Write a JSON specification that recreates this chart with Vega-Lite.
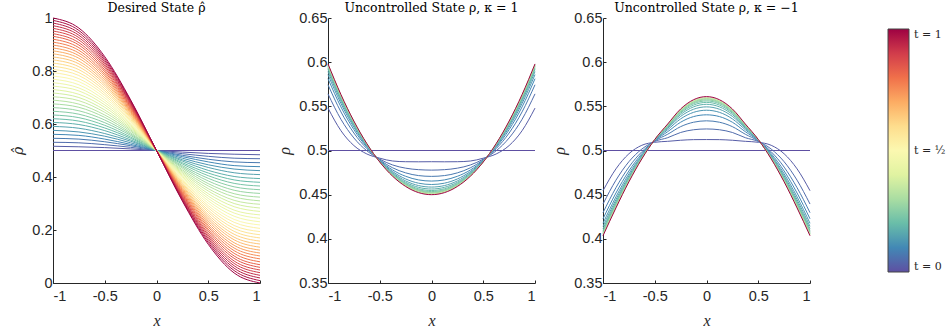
{
"$schema":"https://vega.github.io/schema/vega-lite/v6.json",
"padding":{"left":11,"top":1,"right":0,"bottom":0},
"bounds":"flush",
"spacing":68,
"config":{
"view":{"stroke":null},
"axis":{"grid":false,"domainColor":"#262626","domainWidth":1,"tickColor":"#262626","tickSize":-3,"tickWidth":1,"labelColor":"#262626","labelFont":"Liberation Sans","labelFontSize":14.5,"titleFont":"Liberation Serif","titleFontSize":16,"titleFontWeight":"normal","titleFontStyle":"italic","titleColor":"#262626","labelExpr":"toString(datum.value)"},
"axisX":{"labelPadding":9,"titlePadding":10},
"axisY":{"labelPadding":4,"titlePadding":6},
"title":{"font":"DejaVu Serif","fontSize":12.5,"fontWeight":"normal","color":"#000","offset":-4}
},
"datasets":{
"a":[
{"t":0,"x":-1,"y":0.5},{"t":0,"x":1,"y":0.5},
{"t":0.025,"x":-1,"y":0.516},{"t":0.025,"x":-0.75,"y":0.514},{"t":0.025,"x":-0.5,"y":0.511},{"t":0.025,"x":-0.25,"y":0.506},{"t":0.025,"x":0,"y":0.5},{"t":0.025,"x":0.25,"y":0.494},{"t":0.025,"x":0.5,"y":0.489},{"t":0.025,"x":0.75,"y":0.486},{"t":0.025,"x":1,"y":0.484},
{"t":0.05,"x":-1,"y":0.531},{"t":0.05,"x":-0.75,"y":0.529},{"t":0.05,"x":-0.5,"y":0.522},{"t":0.05,"x":-0.25,"y":0.512},{"t":0.05,"x":0,"y":0.5},{"t":0.05,"x":0.25,"y":0.488},{"t":0.05,"x":0.5,"y":0.478},{"t":0.05,"x":0.75,"y":0.471},{"t":0.05,"x":1,"y":0.469},
{"t":0.075,"x":-1,"y":0.546},{"t":0.075,"x":-0.75,"y":0.543},{"t":0.075,"x":-0.5,"y":0.533},{"t":0.075,"x":-0.25,"y":0.518},{"t":0.075,"x":0,"y":0.5},{"t":0.075,"x":0.25,"y":0.482},{"t":0.075,"x":0.5,"y":0.467},{"t":0.075,"x":0.75,"y":0.457},{"t":0.075,"x":1,"y":0.454},
{"t":0.1,"x":-1,"y":0.561},{"t":0.1,"x":-0.75,"y":0.557},{"t":0.1,"x":-0.5,"y":0.543},{"t":0.1,"x":-0.25,"y":0.523},{"t":0.1,"x":0,"y":0.5},{"t":0.1,"x":0.25,"y":0.477},{"t":0.1,"x":0.5,"y":0.457},{"t":0.1,"x":0.75,"y":0.443},{"t":0.1,"x":1,"y":0.439},
{"t":0.125,"x":-1,"y":0.576},{"t":0.125,"x":-0.75,"y":0.57},{"t":0.125,"x":-0.5,"y":0.554},{"t":0.125,"x":-0.25,"y":0.529},{"t":0.125,"x":0,"y":0.5},{"t":0.125,"x":0.25,"y":0.471},{"t":0.125,"x":0.5,"y":0.446},{"t":0.125,"x":0.75,"y":0.43},{"t":0.125,"x":1,"y":0.424},
{"t":0.15,"x":-1,"y":0.591},{"t":0.15,"x":-0.75,"y":0.584},{"t":0.15,"x":-0.5,"y":0.564},{"t":0.15,"x":-0.25,"y":0.535},{"t":0.15,"x":0,"y":0.5},{"t":0.15,"x":0.25,"y":0.465},{"t":0.15,"x":0.5,"y":0.436},{"t":0.15,"x":0.75,"y":0.416},{"t":0.15,"x":1,"y":0.409},
{"t":0.175,"x":-1,"y":0.606},{"t":0.175,"x":-0.75,"y":0.598},{"t":0.175,"x":-0.5,"y":0.575},{"t":0.175,"x":-0.25,"y":0.54},{"t":0.175,"x":0,"y":0.5},{"t":0.175,"x":0.25,"y":0.46},{"t":0.175,"x":0.5,"y":0.425},{"t":0.175,"x":0.75,"y":0.402},{"t":0.175,"x":1,"y":0.394},
{"t":0.2,"x":-1,"y":0.62},{"t":0.2,"x":-0.75,"y":0.611},{"t":0.2,"x":-0.5,"y":0.585},{"t":0.2,"x":-0.25,"y":0.546},{"t":0.2,"x":0,"y":0.5},{"t":0.2,"x":0.25,"y":0.454},{"t":0.2,"x":0.5,"y":0.415},{"t":0.2,"x":0.75,"y":0.389},{"t":0.2,"x":1,"y":0.38},
{"t":0.225,"x":-1,"y":0.634},{"t":0.225,"x":-0.75,"y":0.624},{"t":0.225,"x":-0.5,"y":0.595},{"t":0.225,"x":-0.25,"y":0.551},{"t":0.225,"x":0,"y":0.5},{"t":0.225,"x":0.25,"y":0.449},{"t":0.225,"x":0.5,"y":0.405},{"t":0.225,"x":0.75,"y":0.376},{"t":0.225,"x":1,"y":0.366},
{"t":0.25,"x":-1,"y":0.648},{"t":0.25,"x":-0.75,"y":0.637},{"t":0.25,"x":-0.5,"y":0.605},{"t":0.25,"x":-0.25,"y":0.557},{"t":0.25,"x":0,"y":0.5},{"t":0.25,"x":0.25,"y":0.443},{"t":0.25,"x":0.5,"y":0.395},{"t":0.25,"x":0.75,"y":0.363},{"t":0.25,"x":1,"y":0.352},
{"t":0.275,"x":-1,"y":0.662},{"t":0.275,"x":-0.75,"y":0.65},{"t":0.275,"x":-0.5,"y":0.615},{"t":0.275,"x":-0.25,"y":0.562},{"t":0.275,"x":0,"y":0.5},{"t":0.275,"x":0.25,"y":0.438},{"t":0.275,"x":0.5,"y":0.385},{"t":0.275,"x":0.75,"y":0.35},{"t":0.275,"x":1,"y":0.338},
{"t":0.3,"x":-1,"y":0.676},{"t":0.3,"x":-0.75,"y":0.663},{"t":0.3,"x":-0.5,"y":0.625},{"t":0.3,"x":-0.25,"y":0.567},{"t":0.3,"x":0,"y":0.5},{"t":0.3,"x":0.25,"y":0.433},{"t":0.3,"x":0.5,"y":0.375},{"t":0.3,"x":0.75,"y":0.337},{"t":0.3,"x":1,"y":0.324},
{"t":0.325,"x":-1,"y":0.69},{"t":0.325,"x":-0.75,"y":0.675},{"t":0.325,"x":-0.5,"y":0.634},{"t":0.325,"x":-0.25,"y":0.573},{"t":0.325,"x":0,"y":0.5},{"t":0.325,"x":0.25,"y":0.427},{"t":0.325,"x":0.5,"y":0.366},{"t":0.325,"x":0.75,"y":0.325},{"t":0.325,"x":1,"y":0.31},
{"t":0.35,"x":-1,"y":0.703},{"t":0.35,"x":-0.75,"y":0.688},{"t":0.35,"x":-0.5,"y":0.644},{"t":0.35,"x":-0.25,"y":0.578},{"t":0.35,"x":0,"y":0.5},{"t":0.35,"x":0.25,"y":0.422},{"t":0.35,"x":0.5,"y":0.356},{"t":0.35,"x":0.75,"y":0.312},{"t":0.35,"x":1,"y":0.297},
{"t":0.375,"x":-1,"y":0.717},{"t":0.375,"x":-0.75,"y":0.7},{"t":0.375,"x":-0.5,"y":0.653},{"t":0.375,"x":-0.25,"y":0.583},{"t":0.375,"x":0,"y":0.5},{"t":0.375,"x":0.25,"y":0.417},{"t":0.375,"x":0.5,"y":0.347},{"t":0.375,"x":0.75,"y":0.3},{"t":0.375,"x":1,"y":0.283},
{"t":0.4,"x":-1,"y":0.73},{"t":0.4,"x":-0.75,"y":0.712},{"t":0.4,"x":-0.5,"y":0.663},{"t":0.4,"x":-0.25,"y":0.588},{"t":0.4,"x":0,"y":0.5},{"t":0.4,"x":0.25,"y":0.412},{"t":0.4,"x":0.5,"y":0.337},{"t":0.4,"x":0.75,"y":0.288},{"t":0.4,"x":1,"y":0.27},
{"t":0.425,"x":-1,"y":0.743},{"t":0.425,"x":-0.75,"y":0.725},{"t":0.425,"x":-0.5,"y":0.672},{"t":0.425,"x":-0.25,"y":0.593},{"t":0.425,"x":0,"y":0.5},{"t":0.425,"x":0.25,"y":0.407},{"t":0.425,"x":0.5,"y":0.328},{"t":0.425,"x":0.75,"y":0.275},{"t":0.425,"x":1,"y":0.257},
{"t":0.45,"x":-1,"y":0.756},{"t":0.45,"x":-0.75,"y":0.736},{"t":0.45,"x":-0.5,"y":0.681},{"t":0.45,"x":-0.25,"y":0.598},{"t":0.45,"x":0,"y":0.5},{"t":0.45,"x":0.25,"y":0.402},{"t":0.45,"x":0.5,"y":0.319},{"t":0.45,"x":0.75,"y":0.264},{"t":0.45,"x":1,"y":0.244},
{"t":0.475,"x":-1,"y":0.769},{"t":0.475,"x":-0.75,"y":0.748},{"t":0.475,"x":-0.5,"y":0.69},{"t":0.475,"x":-0.25,"y":0.603},{"t":0.475,"x":0,"y":0.5},{"t":0.475,"x":0.25,"y":0.397},{"t":0.475,"x":0.5,"y":0.31},{"t":0.475,"x":0.75,"y":0.252},{"t":0.475,"x":1,"y":0.231},
{"t":0.5,"x":-1,"y":0.781},{"t":0.5,"x":-0.75,"y":0.76},{"t":0.5,"x":-0.5,"y":0.699},{"t":0.5,"x":-0.25,"y":0.608},{"t":0.5,"x":0,"y":0.5},{"t":0.5,"x":0.25,"y":0.392},{"t":0.5,"x":0.5,"y":0.301},{"t":0.5,"x":0.75,"y":0.24},{"t":0.5,"x":1,"y":0.219},
{"t":0.525,"x":-1,"y":0.794},{"t":0.525,"x":-0.75,"y":0.771},{"t":0.525,"x":-0.5,"y":0.708},{"t":0.525,"x":-0.25,"y":0.612},{"t":0.525,"x":0,"y":0.5},{"t":0.525,"x":0.25,"y":0.388},{"t":0.525,"x":0.5,"y":0.292},{"t":0.525,"x":0.75,"y":0.229},{"t":0.525,"x":1,"y":0.206},
{"t":0.55,"x":-1,"y":0.806},{"t":0.55,"x":-0.75,"y":0.783},{"t":0.55,"x":-0.5,"y":0.716},{"t":0.55,"x":-0.25,"y":0.617},{"t":0.55,"x":0,"y":0.5},{"t":0.55,"x":0.25,"y":0.383},{"t":0.55,"x":0.5,"y":0.284},{"t":0.55,"x":0.75,"y":0.217},{"t":0.55,"x":1,"y":0.194},
{"t":0.575,"x":-1,"y":0.818},{"t":0.575,"x":-0.75,"y":0.794},{"t":0.575,"x":-0.5,"y":0.725},{"t":0.575,"x":-0.25,"y":0.622},{"t":0.575,"x":0,"y":0.5},{"t":0.575,"x":0.25,"y":0.378},{"t":0.575,"x":0.5,"y":0.275},{"t":0.575,"x":0.75,"y":0.206},{"t":0.575,"x":1,"y":0.182},
{"t":0.6,"x":-1,"y":0.83},{"t":0.6,"x":-0.75,"y":0.805},{"t":0.6,"x":-0.5,"y":0.733},{"t":0.6,"x":-0.25,"y":0.626},{"t":0.6,"x":0,"y":0.5},{"t":0.6,"x":0.25,"y":0.374},{"t":0.6,"x":0.5,"y":0.267},{"t":0.6,"x":0.75,"y":0.195},{"t":0.6,"x":1,"y":0.17},
{"t":0.625,"x":-1,"y":0.842},{"t":0.625,"x":-0.75,"y":0.816},{"t":0.625,"x":-0.5,"y":0.742},{"t":0.625,"x":-0.25,"y":0.631},{"t":0.625,"x":0,"y":0.5},{"t":0.625,"x":0.25,"y":0.369},{"t":0.625,"x":0.5,"y":0.258},{"t":0.625,"x":0.75,"y":0.184},{"t":0.625,"x":1,"y":0.158},
{"t":0.65,"x":-1,"y":0.853},{"t":0.65,"x":-0.75,"y":0.827},{"t":0.65,"x":-0.5,"y":0.75},{"t":0.65,"x":-0.25,"y":0.635},{"t":0.65,"x":0,"y":0.5},{"t":0.65,"x":0.25,"y":0.365},{"t":0.65,"x":0.5,"y":0.25},{"t":0.65,"x":0.75,"y":0.173},{"t":0.65,"x":1,"y":0.147},
{"t":0.675,"x":-1,"y":0.865},{"t":0.675,"x":-0.75,"y":0.837},{"t":0.675,"x":-0.5,"y":0.758},{"t":0.675,"x":-0.25,"y":0.64},{"t":0.675,"x":0,"y":0.5},{"t":0.675,"x":0.25,"y":0.36},{"t":0.675,"x":0.5,"y":0.242},{"t":0.675,"x":0.75,"y":0.163},{"t":0.675,"x":1,"y":0.135},
{"t":0.7,"x":-1,"y":0.876},{"t":0.7,"x":-0.75,"y":0.848},{"t":0.7,"x":-0.5,"y":0.766},{"t":0.7,"x":-0.25,"y":0.644},{"t":0.7,"x":0,"y":0.5},{"t":0.7,"x":0.25,"y":0.356},{"t":0.7,"x":0.5,"y":0.234},{"t":0.7,"x":0.75,"y":0.152},{"t":0.7,"x":1,"y":0.124},
{"t":0.725,"x":-1,"y":0.887},{"t":0.725,"x":-0.75,"y":0.858},{"t":0.725,"x":-0.5,"y":0.774},{"t":0.725,"x":-0.25,"y":0.648},{"t":0.725,"x":0,"y":0.5},{"t":0.725,"x":0.25,"y":0.352},{"t":0.725,"x":0.5,"y":0.226},{"t":0.725,"x":0.75,"y":0.142},{"t":0.725,"x":1,"y":0.113},
{"t":0.75,"x":-1,"y":0.898},{"t":0.75,"x":-0.75,"y":0.868},{"t":0.75,"x":-0.5,"y":0.782},{"t":0.75,"x":-0.25,"y":0.652},{"t":0.75,"x":0,"y":0.5},{"t":0.75,"x":0.25,"y":0.348},{"t":0.75,"x":0.5,"y":0.218},{"t":0.75,"x":0.75,"y":0.132},{"t":0.75,"x":1,"y":0.102},
{"t":0.775,"x":-1,"y":0.909},{"t":0.775,"x":-0.75,"y":0.878},{"t":0.775,"x":-0.5,"y":0.789},{"t":0.775,"x":-0.25,"y":0.657},{"t":0.775,"x":0,"y":0.5},{"t":0.775,"x":0.25,"y":0.343},{"t":0.775,"x":0.5,"y":0.211},{"t":0.775,"x":0.75,"y":0.122},{"t":0.775,"x":1,"y":0.091},
{"t":0.8,"x":-1,"y":0.92},{"t":0.8,"x":-0.75,"y":0.888},{"t":0.8,"x":-0.5,"y":0.797},{"t":0.8,"x":-0.25,"y":0.661},{"t":0.8,"x":0,"y":0.5},{"t":0.8,"x":0.25,"y":0.339},{"t":0.8,"x":0.5,"y":0.203},{"t":0.8,"x":0.75,"y":0.112},{"t":0.8,"x":1,"y":0.08},
{"t":0.825,"x":-1,"y":0.931},{"t":0.825,"x":-0.75,"y":0.898},{"t":0.825,"x":-0.5,"y":0.804},{"t":0.825,"x":-0.25,"y":0.665},{"t":0.825,"x":0,"y":0.5},{"t":0.825,"x":0.25,"y":0.335},{"t":0.825,"x":0.5,"y":0.196},{"t":0.825,"x":0.75,"y":0.102},{"t":0.825,"x":1,"y":0.069},
{"t":0.85,"x":-1,"y":0.941},{"t":0.85,"x":-0.75,"y":0.907},{"t":0.85,"x":-0.5,"y":0.812},{"t":0.85,"x":-0.25,"y":0.669},{"t":0.85,"x":0,"y":0.5},{"t":0.85,"x":0.25,"y":0.331},{"t":0.85,"x":0.5,"y":0.188},{"t":0.85,"x":0.75,"y":0.093},{"t":0.85,"x":1,"y":0.059},
{"t":0.875,"x":-1,"y":0.951},{"t":0.875,"x":-0.75,"y":0.917},{"t":0.875,"x":-0.5,"y":0.819},{"t":0.875,"x":-0.25,"y":0.673},{"t":0.875,"x":0,"y":0.5},{"t":0.875,"x":0.25,"y":0.327},{"t":0.875,"x":0.5,"y":0.181},{"t":0.875,"x":0.75,"y":0.083},{"t":0.875,"x":1,"y":0.049},
{"t":0.9,"x":-1,"y":0.961},{"t":0.9,"x":-0.75,"y":0.926},{"t":0.9,"x":-0.5,"y":0.826},{"t":0.9,"x":-0.25,"y":0.677},{"t":0.9,"x":0,"y":0.5},{"t":0.9,"x":0.25,"y":0.323},{"t":0.9,"x":0.5,"y":0.174},{"t":0.9,"x":0.75,"y":0.074},{"t":0.9,"x":1,"y":0.039},
{"t":0.925,"x":-1,"y":0.971},{"t":0.925,"x":-0.75,"y":0.935},{"t":0.925,"x":-0.5,"y":0.833},{"t":0.925,"x":-0.25,"y":0.68},{"t":0.925,"x":0,"y":0.5},{"t":0.925,"x":0.25,"y":0.32},{"t":0.925,"x":0.5,"y":0.167},{"t":0.925,"x":0.75,"y":0.065},{"t":0.925,"x":1,"y":0.029},
{"t":0.95,"x":-1,"y":0.981},{"t":0.95,"x":-0.75,"y":0.944},{"t":0.95,"x":-0.5,"y":0.84},{"t":0.95,"x":-0.25,"y":0.684},{"t":0.95,"x":0,"y":0.5},{"t":0.95,"x":0.25,"y":0.316},{"t":0.95,"x":0.5,"y":0.16},{"t":0.95,"x":0.75,"y":0.056},{"t":0.95,"x":1,"y":0.019},
{"t":0.975,"x":-1,"y":0.991},{"t":0.975,"x":-0.75,"y":0.953},{"t":0.975,"x":-0.5,"y":0.847},{"t":0.975,"x":-0.25,"y":0.688},{"t":0.975,"x":0,"y":0.5},{"t":0.975,"x":0.25,"y":0.312},{"t":0.975,"x":0.5,"y":0.153},{"t":0.975,"x":0.75,"y":0.047},{"t":0.975,"x":1,"y":0.009},
{"t":1,"x":-1,"y":1},{"t":1,"x":-0.75,"y":0.962},{"t":1,"x":-0.5,"y":0.854},{"t":1,"x":-0.25,"y":0.691},{"t":1,"x":0,"y":0.5},{"t":1,"x":0.25,"y":0.309},{"t":1,"x":0.5,"y":0.146},{"t":1,"x":0.75,"y":0.038},{"t":1,"x":1,"y":0}
],
"b":[
{"t":0,"x":-1,"y":0.5},{"t":0,"x":1,"y":0.5},
{"t":0.025,"x":-1,"y":0.548},{"t":0.025,"x":-0.875,"y":0.5224},{"t":0.025,"x":-0.75,"y":0.5056},{"t":0.025,"x":-0.625,"y":0.4961},{"t":0.025,"x":-0.5,"y":0.4913},{"t":0.025,"x":-0.375,"y":0.4881},{"t":0.025,"x":-0.25,"y":0.4873},{"t":0.025,"x":-0.125,"y":0.4872},{"t":0.025,"x":0,"y":0.4873},{"t":0.025,"x":0.125,"y":0.4872},{"t":0.025,"x":0.25,"y":0.4873},{"t":0.025,"x":0.375,"y":0.4881},{"t":0.025,"x":0.5,"y":0.4913},{"t":0.025,"x":0.625,"y":0.4961},{"t":0.025,"x":0.75,"y":0.5056},{"t":0.025,"x":0.875,"y":0.5224},{"t":0.025,"x":1,"y":0.548},
{"t":0.05,"x":-1,"y":0.5641},{"t":0.05,"x":-0.875,"y":0.5353},{"t":0.05,"x":-0.75,"y":0.5142},{"t":0.05,"x":-0.625,"y":0.4997},{"t":0.05,"x":-0.5,"y":0.4902},{"t":0.05,"x":-0.375,"y":0.4836},{"t":0.05,"x":-0.25,"y":0.48},{"t":0.05,"x":-0.125,"y":0.4783},{"t":0.05,"x":0,"y":0.4778},{"t":0.05,"x":0.125,"y":0.4783},{"t":0.05,"x":0.25,"y":0.48},{"t":0.05,"x":0.375,"y":0.4836},{"t":0.05,"x":0.5,"y":0.4902},{"t":0.05,"x":0.625,"y":0.4997},{"t":0.05,"x":0.75,"y":0.5142},{"t":0.05,"x":0.875,"y":0.5353},{"t":0.05,"x":1,"y":0.5641},
{"t":0.075,"x":-1,"y":0.5744},{"t":0.075,"x":-0.875,"y":0.5437},{"t":0.075,"x":-0.75,"y":0.5198},{"t":0.075,"x":-0.625,"y":0.5021},{"t":0.075,"x":-0.5,"y":0.4894},{"t":0.075,"x":-0.375,"y":0.4804},{"t":0.075,"x":-0.25,"y":0.4747},{"t":0.075,"x":-0.125,"y":0.4716},{"t":0.075,"x":0,"y":0.4707},{"t":0.075,"x":0.125,"y":0.4716},{"t":0.075,"x":0.25,"y":0.4747},{"t":0.075,"x":0.375,"y":0.4804},{"t":0.075,"x":0.5,"y":0.4894},{"t":0.075,"x":0.625,"y":0.5021},{"t":0.075,"x":0.75,"y":0.5198},{"t":0.075,"x":0.875,"y":0.5437},{"t":0.075,"x":1,"y":0.5744},
{"t":0.1,"x":-1,"y":0.5813},{"t":0.1,"x":-0.875,"y":0.5493},{"t":0.1,"x":-0.75,"y":0.5236},{"t":0.1,"x":-0.625,"y":0.5037},{"t":0.1,"x":-0.5,"y":0.4888},{"t":0.1,"x":-0.375,"y":0.4779},{"t":0.1,"x":-0.25,"y":0.4708},{"t":0.1,"x":-0.125,"y":0.4667},{"t":0.1,"x":0,"y":0.4654},{"t":0.1,"x":0.125,"y":0.4667},{"t":0.1,"x":0.25,"y":0.4708},{"t":0.1,"x":0.375,"y":0.4779},{"t":0.1,"x":0.5,"y":0.4888},{"t":0.1,"x":0.625,"y":0.5037},{"t":0.1,"x":0.75,"y":0.5236},{"t":0.1,"x":0.875,"y":0.5493},{"t":0.1,"x":1,"y":0.5813},
{"t":0.125,"x":-1,"y":0.5859},{"t":0.125,"x":-0.875,"y":0.5532},{"t":0.125,"x":-0.75,"y":0.5263},{"t":0.125,"x":-0.625,"y":0.5048},{"t":0.125,"x":-0.5,"y":0.4883},{"t":0.125,"x":-0.375,"y":0.4761},{"t":0.125,"x":-0.25,"y":0.4678},{"t":0.125,"x":-0.125,"y":0.463},{"t":0.125,"x":0,"y":0.4615},{"t":0.125,"x":0.125,"y":0.463},{"t":0.125,"x":0.25,"y":0.4678},{"t":0.125,"x":0.375,"y":0.4761},{"t":0.125,"x":0.5,"y":0.4883},{"t":0.125,"x":0.625,"y":0.5048},{"t":0.125,"x":0.75,"y":0.5263},{"t":0.125,"x":0.875,"y":0.5532},{"t":0.125,"x":1,"y":0.5859},
{"t":0.15,"x":-1,"y":0.5893},{"t":0.15,"x":-0.875,"y":0.556},{"t":0.15,"x":-0.75,"y":0.5282},{"t":0.15,"x":-0.625,"y":0.5057},{"t":0.15,"x":-0.5,"y":0.488},{"t":0.15,"x":-0.375,"y":0.4748},{"t":0.15,"x":-0.25,"y":0.4656},{"t":0.15,"x":-0.125,"y":0.4603},{"t":0.15,"x":0,"y":0.4586},{"t":0.15,"x":0.125,"y":0.4603},{"t":0.15,"x":0.25,"y":0.4656},{"t":0.15,"x":0.375,"y":0.4748},{"t":0.15,"x":0.5,"y":0.488},{"t":0.15,"x":0.625,"y":0.5057},{"t":0.15,"x":0.75,"y":0.5282},{"t":0.15,"x":0.875,"y":0.556},{"t":0.15,"x":1,"y":0.5893},
{"t":0.175,"x":-1,"y":0.5918},{"t":0.175,"x":-0.875,"y":0.558},{"t":0.175,"x":-0.75,"y":0.5296},{"t":0.175,"x":-0.625,"y":0.5063},{"t":0.175,"x":-0.5,"y":0.4877},{"t":0.175,"x":-0.375,"y":0.4738},{"t":0.175,"x":-0.25,"y":0.464},{"t":0.175,"x":-0.125,"y":0.4583},{"t":0.175,"x":0,"y":0.4564},{"t":0.175,"x":0.125,"y":0.4583},{"t":0.175,"x":0.25,"y":0.464},{"t":0.175,"x":0.375,"y":0.4738},{"t":0.175,"x":0.5,"y":0.4877},{"t":0.175,"x":0.625,"y":0.5063},{"t":0.175,"x":0.75,"y":0.5296},{"t":0.175,"x":0.875,"y":0.558},{"t":0.175,"x":1,"y":0.5918},
{"t":0.2,"x":-1,"y":0.5934},{"t":0.2,"x":-0.875,"y":0.5594},{"t":0.2,"x":-0.75,"y":0.5305},{"t":0.2,"x":-0.625,"y":0.5067},{"t":0.2,"x":-0.5,"y":0.4876},{"t":0.2,"x":-0.375,"y":0.473},{"t":0.2,"x":-0.25,"y":0.4628},{"t":0.2,"x":-0.125,"y":0.4567},{"t":0.2,"x":0,"y":0.4547},{"t":0.2,"x":0.125,"y":0.4567},{"t":0.2,"x":0.25,"y":0.4628},{"t":0.2,"x":0.375,"y":0.473},{"t":0.2,"x":0.5,"y":0.4876},{"t":0.2,"x":0.625,"y":0.5067},{"t":0.2,"x":0.75,"y":0.5305},{"t":0.2,"x":0.875,"y":0.5594},{"t":0.2,"x":1,"y":0.5934},
{"t":0.225,"x":-1,"y":0.5946},{"t":0.225,"x":-0.875,"y":0.5604},{"t":0.225,"x":-0.75,"y":0.5312},{"t":0.225,"x":-0.625,"y":0.507},{"t":0.225,"x":-0.5,"y":0.4874},{"t":0.225,"x":-0.375,"y":0.4724},{"t":0.225,"x":-0.25,"y":0.4619},{"t":0.225,"x":-0.125,"y":0.4556},{"t":0.225,"x":0,"y":0.4535},{"t":0.225,"x":0.125,"y":0.4556},{"t":0.225,"x":0.25,"y":0.4619},{"t":0.225,"x":0.375,"y":0.4724},{"t":0.225,"x":0.5,"y":0.4874},{"t":0.225,"x":0.625,"y":0.507},{"t":0.225,"x":0.75,"y":0.5312},{"t":0.225,"x":0.875,"y":0.5604},{"t":0.225,"x":1,"y":0.5946},
{"t":0.25,"x":-1,"y":0.5954},{"t":0.25,"x":-0.875,"y":0.5611},{"t":0.25,"x":-0.75,"y":0.5317},{"t":0.25,"x":-0.625,"y":0.5072},{"t":0.25,"x":-0.5,"y":0.4873},{"t":0.25,"x":-0.375,"y":0.472},{"t":0.25,"x":-0.25,"y":0.4612},{"t":0.25,"x":-0.125,"y":0.4548},{"t":0.25,"x":0,"y":0.4526},{"t":0.25,"x":0.125,"y":0.4548},{"t":0.25,"x":0.25,"y":0.4612},{"t":0.25,"x":0.375,"y":0.472},{"t":0.25,"x":0.5,"y":0.4873},{"t":0.25,"x":0.625,"y":0.5072},{"t":0.25,"x":0.75,"y":0.5317},{"t":0.25,"x":0.875,"y":0.5611},{"t":0.25,"x":1,"y":0.5954},
{"t":0.275,"x":-1,"y":0.5961},{"t":0.275,"x":-0.875,"y":0.5617},{"t":0.275,"x":-0.75,"y":0.5321},{"t":0.275,"x":-0.625,"y":0.5073},{"t":0.275,"x":-0.5,"y":0.4872},{"t":0.275,"x":-0.375,"y":0.4717},{"t":0.275,"x":-0.25,"y":0.4607},{"t":0.275,"x":-0.125,"y":0.4541},{"t":0.275,"x":0,"y":0.452},{"t":0.275,"x":0.125,"y":0.4541},{"t":0.275,"x":0.25,"y":0.4607},{"t":0.275,"x":0.375,"y":0.4717},{"t":0.275,"x":0.5,"y":0.4872},{"t":0.275,"x":0.625,"y":0.5073},{"t":0.275,"x":0.75,"y":0.5321},{"t":0.275,"x":0.875,"y":0.5617},{"t":0.275,"x":1,"y":0.5961},
{"t":0.3,"x":-1,"y":0.5966},{"t":0.3,"x":-0.875,"y":0.5621},{"t":0.3,"x":-0.75,"y":0.5324},{"t":0.3,"x":-0.625,"y":0.5075},{"t":0.3,"x":-0.5,"y":0.4872},{"t":0.3,"x":-0.375,"y":0.4715},{"t":0.3,"x":-0.25,"y":0.4603},{"t":0.3,"x":-0.125,"y":0.4537},{"t":0.3,"x":0,"y":0.4515},{"t":0.3,"x":0.125,"y":0.4537},{"t":0.3,"x":0.25,"y":0.4603},{"t":0.3,"x":0.375,"y":0.4715},{"t":0.3,"x":0.5,"y":0.4872},{"t":0.3,"x":0.625,"y":0.5075},{"t":0.3,"x":0.75,"y":0.5324},{"t":0.3,"x":0.875,"y":0.5621},{"t":0.3,"x":1,"y":0.5966},
{"t":0.35,"x":-1,"y":0.5972},{"t":0.35,"x":-0.875,"y":0.5626},{"t":0.35,"x":-0.75,"y":0.5328},{"t":0.35,"x":-0.625,"y":0.5076},{"t":0.35,"x":-0.5,"y":0.4871},{"t":0.35,"x":-0.375,"y":0.4712},{"t":0.35,"x":-0.25,"y":0.4599},{"t":0.35,"x":-0.125,"y":0.4531},{"t":0.35,"x":0,"y":0.4508},{"t":0.35,"x":0.125,"y":0.4531},{"t":0.35,"x":0.25,"y":0.4599},{"t":0.35,"x":0.375,"y":0.4712},{"t":0.35,"x":0.5,"y":0.4871},{"t":0.35,"x":0.625,"y":0.5076},{"t":0.35,"x":0.75,"y":0.5328},{"t":0.35,"x":0.875,"y":0.5626},{"t":0.35,"x":1,"y":0.5972},
{"t":1,"x":-1,"y":0.598},{"t":1,"x":-0.875,"y":0.5633},{"t":1,"x":-0.75,"y":0.5333},{"t":1,"x":-0.625,"y":0.5078},{"t":1,"x":-0.5,"y":0.487},{"t":1,"x":-0.375,"y":0.4708},{"t":1,"x":-0.25,"y":0.4593},{"t":1,"x":-0.125,"y":0.4523},{"t":1,"x":0,"y":0.45},{"t":1,"x":0.125,"y":0.4523},{"t":1,"x":0.25,"y":0.4593},{"t":1,"x":0.375,"y":0.4708},{"t":1,"x":0.5,"y":0.487},{"t":1,"x":0.625,"y":0.5078},{"t":1,"x":0.75,"y":0.5333},{"t":1,"x":0.875,"y":0.5633},{"t":1,"x":1,"y":0.598}
],
"c":[
{"t":0,"x":-1,"y":0.5},{"t":0,"x":1,"y":0.5},
{"t":0.025,"x":-1,"y":0.4545},{"t":0.025,"x":-0.875,"y":0.4792},{"t":0.025,"x":-0.75,"y":0.4963},{"t":0.025,"x":-0.625,"y":0.5059},{"t":0.025,"x":-0.5,"y":0.5093},{"t":0.025,"x":-0.375,"y":0.5104},{"t":0.025,"x":-0.25,"y":0.5116},{"t":0.025,"x":-0.125,"y":0.5123},{"t":0.025,"x":0,"y":0.5124},{"t":0.025,"x":0.125,"y":0.5123},{"t":0.025,"x":0.25,"y":0.5116},{"t":0.025,"x":0.375,"y":0.5104},{"t":0.025,"x":0.5,"y":0.5093},{"t":0.025,"x":0.625,"y":0.5059},{"t":0.025,"x":0.75,"y":0.4963},{"t":0.025,"x":0.875,"y":0.4792},{"t":0.025,"x":1,"y":0.4545},
{"t":0.05,"x":-1,"y":0.4394},{"t":0.05,"x":-0.875,"y":0.4664},{"t":0.05,"x":-0.75,"y":0.4873},{"t":0.05,"x":-0.625,"y":0.5016},{"t":0.05,"x":-0.5,"y":0.5103},{"t":0.05,"x":-0.375,"y":0.5145},{"t":0.05,"x":-0.25,"y":0.5204},{"t":0.05,"x":-0.125,"y":0.5235},{"t":0.05,"x":0,"y":0.5244},{"t":0.05,"x":0.125,"y":0.5235},{"t":0.05,"x":0.25,"y":0.5204},{"t":0.05,"x":0.375,"y":0.5145},{"t":0.05,"x":0.5,"y":0.5103},{"t":0.05,"x":0.625,"y":0.5016},{"t":0.05,"x":0.75,"y":0.4873},{"t":0.05,"x":0.875,"y":0.4664},{"t":0.05,"x":1,"y":0.4394},
{"t":0.075,"x":-1,"y":0.4296},{"t":0.075,"x":-0.875,"y":0.4579},{"t":0.075,"x":-0.75,"y":0.4812},{"t":0.075,"x":-0.625,"y":0.4986},{"t":0.075,"x":-0.5,"y":0.5108},{"t":0.075,"x":-0.375,"y":0.5184},{"t":0.075,"x":-0.25,"y":0.527},{"t":0.075,"x":-0.125,"y":0.532},{"t":0.075,"x":0,"y":0.5336},{"t":0.075,"x":0.125,"y":0.532},{"t":0.075,"x":0.25,"y":0.527},{"t":0.075,"x":0.375,"y":0.5184},{"t":0.075,"x":0.5,"y":0.5108},{"t":0.075,"x":0.625,"y":0.4986},{"t":0.075,"x":0.75,"y":0.4812},{"t":0.075,"x":0.875,"y":0.4579},{"t":0.075,"x":1,"y":0.4296},
{"t":0.1,"x":-1,"y":0.4227},{"t":0.1,"x":-0.875,"y":0.4519},{"t":0.1,"x":-0.75,"y":0.4768},{"t":0.1,"x":-0.625,"y":0.4965},{"t":0.1,"x":-0.5,"y":0.5113},{"t":0.1,"x":-0.375,"y":0.5213},{"t":0.1,"x":-0.25,"y":0.532},{"t":0.1,"x":-0.125,"y":0.5384},{"t":0.1,"x":0,"y":0.5404},{"t":0.1,"x":0.125,"y":0.5384},{"t":0.1,"x":0.25,"y":0.532},{"t":0.1,"x":0.375,"y":0.5213},{"t":0.1,"x":0.5,"y":0.5113},{"t":0.1,"x":0.625,"y":0.4965},{"t":0.1,"x":0.75,"y":0.4768},{"t":0.1,"x":0.875,"y":0.4519},{"t":0.1,"x":1,"y":0.4227},
{"t":0.125,"x":-1,"y":0.4176},{"t":0.125,"x":-0.875,"y":0.4475},{"t":0.125,"x":-0.75,"y":0.4736},{"t":0.125,"x":-0.625,"y":0.4949},{"t":0.125,"x":-0.5,"y":0.5116},{"t":0.125,"x":-0.375,"y":0.5235},{"t":0.125,"x":-0.25,"y":0.5358},{"t":0.125,"x":-0.125,"y":0.5432},{"t":0.125,"x":0,"y":0.5456},{"t":0.125,"x":0.125,"y":0.5432},{"t":0.125,"x":0.25,"y":0.5358},{"t":0.125,"x":0.375,"y":0.5235},{"t":0.125,"x":0.5,"y":0.5116},{"t":0.125,"x":0.625,"y":0.4949},{"t":0.125,"x":0.75,"y":0.4736},{"t":0.125,"x":0.875,"y":0.4475},{"t":0.125,"x":1,"y":0.4176},
{"t":0.15,"x":-1,"y":0.4141},{"t":0.15,"x":-0.875,"y":0.4444},{"t":0.15,"x":-0.75,"y":0.4713},{"t":0.15,"x":-0.625,"y":0.4938},{"t":0.15,"x":-0.5,"y":0.5118},{"t":0.15,"x":-0.375,"y":0.5251},{"t":0.15,"x":-0.25,"y":0.5386},{"t":0.15,"x":-0.125,"y":0.5467},{"t":0.15,"x":0,"y":0.5494},{"t":0.15,"x":0.125,"y":0.5467},{"t":0.15,"x":0.25,"y":0.5386},{"t":0.15,"x":0.375,"y":0.5251},{"t":0.15,"x":0.5,"y":0.5118},{"t":0.15,"x":0.625,"y":0.4938},{"t":0.15,"x":0.75,"y":0.4713},{"t":0.15,"x":0.875,"y":0.4444},{"t":0.15,"x":1,"y":0.4141},
{"t":0.175,"x":-1,"y":0.4114},{"t":0.175,"x":-0.875,"y":0.442},{"t":0.175,"x":-0.75,"y":0.4696},{"t":0.175,"x":-0.625,"y":0.493},{"t":0.175,"x":-0.5,"y":0.512},{"t":0.175,"x":-0.375,"y":0.5263},{"t":0.175,"x":-0.25,"y":0.5407},{"t":0.175,"x":-0.125,"y":0.5494},{"t":0.175,"x":0,"y":0.5523},{"t":0.175,"x":0.125,"y":0.5494},{"t":0.175,"x":0.25,"y":0.5407},{"t":0.175,"x":0.375,"y":0.5263},{"t":0.175,"x":0.5,"y":0.512},{"t":0.175,"x":0.625,"y":0.493},{"t":0.175,"x":0.75,"y":0.4696},{"t":0.175,"x":0.875,"y":0.442},{"t":0.175,"x":1,"y":0.4114},
{"t":0.2,"x":-1,"y":0.4095},{"t":0.2,"x":-0.875,"y":0.4403},{"t":0.2,"x":-0.75,"y":0.4683},{"t":0.2,"x":-0.625,"y":0.4924},{"t":0.2,"x":-0.5,"y":0.5121},{"t":0.2,"x":-0.375,"y":0.5272},{"t":0.2,"x":-0.25,"y":0.5423},{"t":0.2,"x":-0.125,"y":0.5514},{"t":0.2,"x":0,"y":0.5545},{"t":0.2,"x":0.125,"y":0.5514},{"t":0.2,"x":0.25,"y":0.5423},{"t":0.2,"x":0.375,"y":0.5272},{"t":0.2,"x":0.5,"y":0.5121},{"t":0.2,"x":0.625,"y":0.4924},{"t":0.2,"x":0.75,"y":0.4683},{"t":0.2,"x":0.875,"y":0.4403},{"t":0.2,"x":1,"y":0.4095},
{"t":0.225,"x":-1,"y":0.408},{"t":0.225,"x":-0.875,"y":0.439},{"t":0.225,"x":-0.75,"y":0.4674},{"t":0.225,"x":-0.625,"y":0.4919},{"t":0.225,"x":-0.5,"y":0.5122},{"t":0.225,"x":-0.375,"y":0.5279},{"t":0.225,"x":-0.25,"y":0.5434},{"t":0.225,"x":-0.125,"y":0.553},{"t":0.225,"x":0,"y":0.5561},{"t":0.225,"x":0.125,"y":0.553},{"t":0.225,"x":0.25,"y":0.5434},{"t":0.225,"x":0.375,"y":0.5279},{"t":0.225,"x":0.5,"y":0.5122},{"t":0.225,"x":0.625,"y":0.4919},{"t":0.225,"x":0.75,"y":0.4674},{"t":0.225,"x":0.875,"y":0.439},{"t":0.225,"x":1,"y":0.408},
{"t":0.25,"x":-1,"y":0.4069},{"t":0.25,"x":-0.875,"y":0.438},{"t":0.25,"x":-0.75,"y":0.4667},{"t":0.25,"x":-0.625,"y":0.4916},{"t":0.25,"x":-0.5,"y":0.5123},{"t":0.25,"x":-0.375,"y":0.5284},{"t":0.25,"x":-0.25,"y":0.5443},{"t":0.25,"x":-0.125,"y":0.5541},{"t":0.25,"x":0,"y":0.5573},{"t":0.25,"x":0.125,"y":0.5541},{"t":0.25,"x":0.25,"y":0.5443},{"t":0.25,"x":0.375,"y":0.5284},{"t":0.25,"x":0.5,"y":0.5123},{"t":0.25,"x":0.625,"y":0.4916},{"t":0.25,"x":0.75,"y":0.4667},{"t":0.25,"x":0.875,"y":0.438},{"t":0.25,"x":1,"y":0.4069},
{"t":0.275,"x":-1,"y":0.406},{"t":0.275,"x":-0.875,"y":0.4372},{"t":0.275,"x":-0.75,"y":0.4661},{"t":0.275,"x":-0.625,"y":0.4913},{"t":0.275,"x":-0.5,"y":0.5123},{"t":0.275,"x":-0.375,"y":0.5288},{"t":0.275,"x":-0.25,"y":0.545},{"t":0.275,"x":-0.125,"y":0.5549},{"t":0.275,"x":0,"y":0.5583},{"t":0.275,"x":0.125,"y":0.5549},{"t":0.275,"x":0.25,"y":0.545},{"t":0.275,"x":0.375,"y":0.5288},{"t":0.275,"x":0.5,"y":0.5123},{"t":0.275,"x":0.625,"y":0.4913},{"t":0.275,"x":0.75,"y":0.4661},{"t":0.275,"x":0.875,"y":0.4372},{"t":0.275,"x":1,"y":0.406},
{"t":0.3,"x":-1,"y":0.4054},{"t":0.3,"x":-0.875,"y":0.4367},{"t":0.3,"x":-0.75,"y":0.4657},{"t":0.3,"x":-0.625,"y":0.4911},{"t":0.3,"x":-0.5,"y":0.5124},{"t":0.3,"x":-0.375,"y":0.5291},{"t":0.3,"x":-0.25,"y":0.5455},{"t":0.3,"x":-0.125,"y":0.5556},{"t":0.3,"x":0,"y":0.5589},{"t":0.3,"x":0.125,"y":0.5556},{"t":0.3,"x":0.25,"y":0.5455},{"t":0.3,"x":0.375,"y":0.5291},{"t":0.3,"x":0.5,"y":0.5124},{"t":0.3,"x":0.625,"y":0.4911},{"t":0.3,"x":0.75,"y":0.4657},{"t":0.3,"x":0.875,"y":0.4367},{"t":0.3,"x":1,"y":0.4054},
{"t":0.35,"x":-1,"y":0.4046},{"t":0.35,"x":-0.875,"y":0.4359},{"t":0.35,"x":-0.75,"y":0.4652},{"t":0.35,"x":-0.625,"y":0.4908},{"t":0.35,"x":-0.5,"y":0.5124},{"t":0.35,"x":-0.375,"y":0.5295},{"t":0.35,"x":-0.25,"y":0.5462},{"t":0.35,"x":-0.125,"y":0.5564},{"t":0.35,"x":0,"y":0.5598},{"t":0.35,"x":0.125,"y":0.5564},{"t":0.35,"x":0.25,"y":0.5462},{"t":0.35,"x":0.375,"y":0.5295},{"t":0.35,"x":0.5,"y":0.5124},{"t":0.35,"x":0.625,"y":0.4908},{"t":0.35,"x":0.75,"y":0.4652},{"t":0.35,"x":0.875,"y":0.4359},{"t":0.35,"x":1,"y":0.4046},
{"t":1,"x":-1,"y":0.4035},{"t":1,"x":-0.875,"y":0.435},{"t":1,"x":-0.75,"y":0.4645},{"t":1,"x":-0.625,"y":0.4905},{"t":1,"x":-0.5,"y":0.5125},{"t":1,"x":-0.375,"y":0.53},{"t":1,"x":-0.25,"y":0.547},{"t":1,"x":-0.125,"y":0.5575},{"t":1,"x":0,"y":0.561},{"t":1,"x":0.125,"y":0.5575},{"t":1,"x":0.25,"y":0.547},{"t":1,"x":0.375,"y":0.53},{"t":1,"x":0.5,"y":0.5125},{"t":1,"x":0.625,"y":0.4905},{"t":1,"x":0.75,"y":0.4645},{"t":1,"x":0.875,"y":0.435},{"t":1,"x":1,"y":0.4035}
]
},
"hconcat":[
{"width":207,"height":265,"title":"Desired State ρ̂","data":{"name":"a"},
"mark":{"type":"line","strokeWidth":1,"interpolate":"monotone"},
"encoding":{
"x":{"field":"x","type":"quantitative","scale":{"domain":[-1,1],"nice":false},"axis":{"values":[-1,-0.5,0,0.5,1],"title":"x"}},
"y":{"field":"y","type":"quantitative","scale":{"domain":[0,1],"nice":false,"zero":false},"axis":{"values":[0,0.2,0.4,0.6,0.8,1],"title":"ρ̂","titleFont":"DejaVu Serif","titleFontSize":14}},
"color":{"field":"t","type":"quantitative","scale":{"domain":[0,1],"scheme":{"name":"spectral","extent":[1,0]}},
"legend":{"title":null,"orient":"none","legendX":835,"legendY":11,"direction":"vertical","gradientLength":243,"gradientThickness":21,"values":[0,0.5,1],"labelExpr":"datum.value == 1 ? 't = 1' : (datum.value == 0 ? 't = 0' : 't = ½')","labelFont":"DejaVu Serif","labelFontSize":11,"labelColor":"#262626","labelBaseline":"middle","labelOffset":5,"gradientStrokeColor":"#444444","gradientStrokeWidth":1}}
}},
{"width":207,"height":265,"title":"Uncontrolled State ρ, κ = 1","data":{"name":"b"},
"mark":{"type":"line","strokeWidth":1,"interpolate":"monotone"},
"encoding":{
"x":{"field":"x","type":"quantitative","scale":{"domain":[-1,1],"nice":false},"axis":{"values":[-1,-0.5,0,0.5,1],"title":"x"}},
"y":{"field":"y","type":"quantitative","scale":{"domain":[0.35,0.65],"nice":false,"zero":false},"axis":{"values":[0.35,0.4,0.45,0.5,0.55,0.6,0.65],"title":"ρ"}},
"color":{"field":"t","type":"quantitative"}
}},
{"width":207,"height":265,"title":"Uncontrolled State ρ, κ = −1","data":{"name":"c"},
"mark":{"type":"line","strokeWidth":1,"interpolate":"monotone"},
"encoding":{
"x":{"field":"x","type":"quantitative","scale":{"domain":[-1,1],"nice":false},"axis":{"values":[-1,-0.5,0,0.5,1],"title":"x"}},
"y":{"field":"y","type":"quantitative","scale":{"domain":[0.35,0.65],"nice":false,"zero":false},"axis":{"values":[0.35,0.4,0.45,0.5,0.55,0.6,0.65],"title":"ρ"}},
"color":{"field":"t","type":"quantitative"}
}}
]
}
